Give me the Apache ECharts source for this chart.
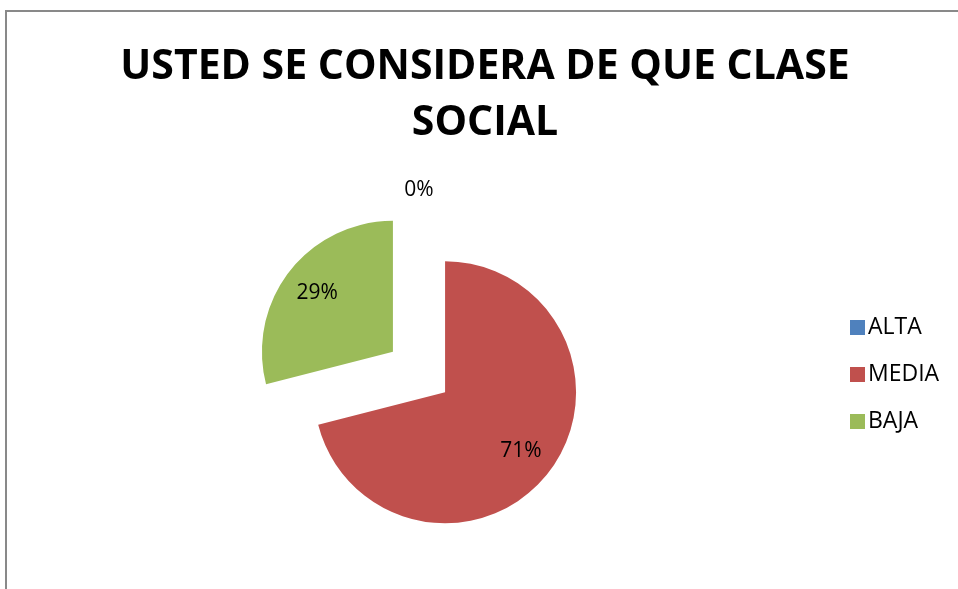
<!DOCTYPE html>
<html>
<head>
<meta charset="utf-8">
<script src="https://cdn.jsdelivr.net/npm/echarts@6/dist/echarts.min.js"></script>
<style>
  html, body { margin: 0; padding: 0; background: #fff; }
  #chart { width: 958px; height: 589px; }
</style>
</head>
<body>
<div id="chart"></div>
<script>
// datos
var categories = ['ALTA', 'MEDIA', 'BAJA']
var values = [0, 71, 29]
var colors = ['#4F81BD', '#C0504D', '#9BBB59']
var titleText = 'USTED SE CONSIDERA DE QUE CLASE\nSOCIAL'

var center = [419, 372]
var offset = 33

function buildData(labelFor) {
  return categories.map(function (name, i) {
    return {
      name: name,
      value: values[i],
      selected: values[i] > 0, // rebanadas separadas
      itemStyle: { color: colors[i] },
      label: { show: labelFor(i) }
    }
  })
}

var chart = echarts.init(document.getElementById('chart'))
chart.setOption({
  animation: false,
  title: {
    text: titleText,
    left: 485,
    textAlign: 'center',
    top: 39,
    padding: 0,
    textStyle: { fontFamily: 'Open Sans', fontWeight: 'bold', fontSize: 41, lineHeight: 56, color: '#000' }
  },
  legend: {
    orient: 'vertical',
    left: 845,
    top: 311,
    itemWidth: 15,
    itemHeight: 15,
    itemGap: 24,
    icon: 'rect',
    selectedMode: false,
    data: categories,
    textStyle: { fontFamily: 'Open Sans', fontSize: 23, color: '#000', padding: [0, 0, 0, -2] }
  },
  graphic: [{
    type: 'rect',
    shape: { x: 6, y: 11, width: 1200, height: 1200 },
    style: { fill: 'none', stroke: '#898989', lineWidth: 2 },
    silent: true
  }],
  series: [
    {// --------------pastel visible--------------
      name: 'clase',
      type: 'pie',
      center: center,
      radius: 131,
      startAngle: 90,
      selectedMode: 'multiple',
      selectedOffset: offset,
      label: { show: false },
      labelLine: { show: false },
      itemStyle: { borderWidth: 0 },
      emphasis: { disabled: true },
      data: buildData(function () { return false })
    },
    {// --------------etiquetas 71% / 29%--------------
      name: 'etiquetas',
      type: 'pie',
      center: center,
      radius: 186,
      startAngle: 90,
      silent: true,
      selectedMode: 'multiple',
      selectedOffset: offset,
      itemStyle: { opacity: 0 },
      label: {
        position: 'inside', formatter: '{d}%', opacity: 1,
        fontFamily: 'Open Sans', fontSize: 21, color: '#000'
      },
      labelLine: { show: false },
      emphasis: { disabled: true },
      data: buildData(function (i) { return values[i] > 0 })
    },
    {// --------------etiqueta 0%--------------
      name: 'etiqueta0',
      type: 'pie',
      center: center,
      radius: 358,
      startAngle: 90,
      silent: true,
      itemStyle: { opacity: 0 },
      label: {
        position: 'inside', formatter: '{d}%', opacity: 1,
        fontFamily: 'Open Sans', fontSize: 21, color: '#000'
      },
      labelLine: { show: false },
      emphasis: { disabled: true },
      data: buildData(function (i) { return values[i] === 0 })
    }
  ]
})
</script>
</body>
</html>
